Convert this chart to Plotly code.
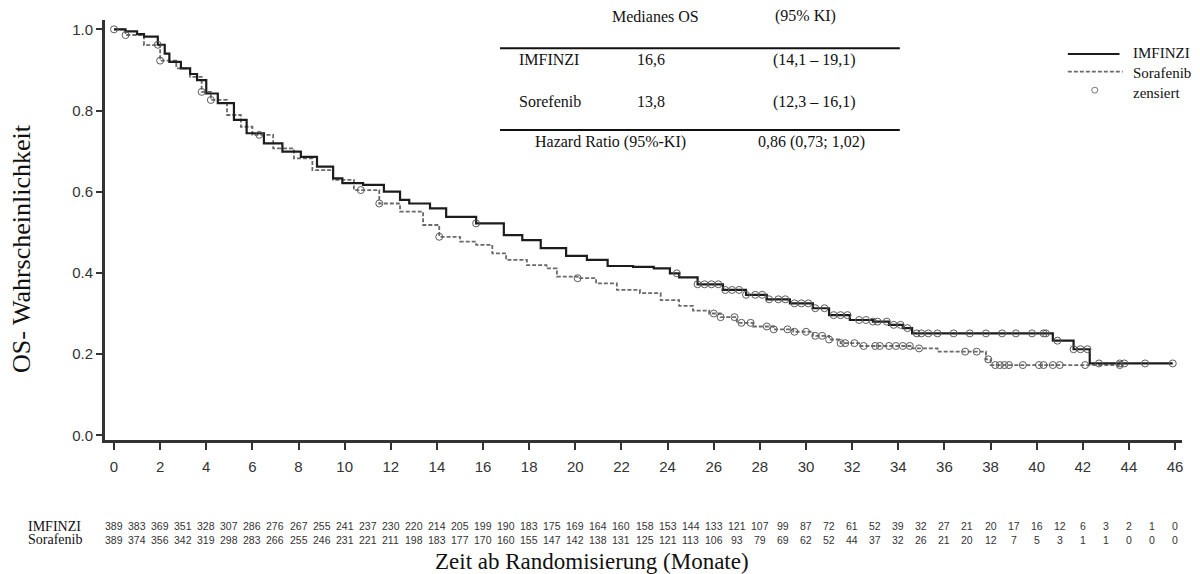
import numpy as np
import plotly.graph_objects as go

# Kaplan-Meier curves (months, survival)
imf_t = [0, 0.5, 1.0, 1.3, 1.9, 2.2, 2.4, 2.9, 3.3, 3.6, 4.0, 4.5, 5.2, 5.75, 6.5, 7.3, 8.1, 8.8,
         9.5, 9.9, 10.8, 11.7, 12.4, 12.8, 13.7, 14.4, 15.7, 16.9, 17.7, 18.5, 19.6, 20.5, 21.4,
         22.5, 23.4, 24.1, 24.5, 25.3, 26.4, 27.4, 28.3, 29.3, 30.3, 31.0, 31.9, 32.9, 33.6,
         34.2, 34.6, 40.7, 41.6, 42.3, 45.9]
imf_s = [1.0, 0.995, 0.988, 0.982, 0.962, 0.94, 0.92, 0.904, 0.89, 0.875, 0.842, 0.818, 0.777,
         0.744, 0.719, 0.699, 0.686, 0.662, 0.633, 0.621, 0.617, 0.600, 0.580, 0.571, 0.559,
         0.538, 0.522, 0.493, 0.481, 0.461, 0.442, 0.432, 0.417, 0.415, 0.411, 0.399, 0.389,
         0.372, 0.358, 0.346, 0.335, 0.325, 0.313, 0.296, 0.284, 0.280, 0.272, 0.264, 0.251,
         0.233, 0.212, 0.177, 0.177]

sor_t = [0, 0.5, 1.3, 2.0, 2.7, 3.3, 3.8, 4.2, 4.9, 5.5, 6.0, 6.9, 7.8, 8.6, 9.5, 10.4, 11.5,
         12.4, 13.4, 14.1, 15.0, 15.7, 16.4, 17.0, 17.9, 18.75, 19.2, 20.1, 20.9, 21.8, 22.8,
         23.7, 24.5, 25.1, 25.8, 26.3, 27.0, 27.7, 28.6, 29.45, 30.3, 31.0, 31.5, 32.3, 34.6,
         35.7, 37.8, 38.0, 43.6]
sor_s = [1.0, 0.986, 0.961, 0.923, 0.904, 0.883, 0.846, 0.826, 0.789, 0.760, 0.740, 0.707,
         0.682, 0.653, 0.629, 0.604, 0.571, 0.551, 0.518, 0.489, 0.477, 0.469, 0.448, 0.432,
         0.419, 0.411, 0.391, 0.387, 0.374, 0.358, 0.350, 0.333, 0.319, 0.307, 0.300, 0.291,
         0.277, 0.268, 0.261, 0.255, 0.245, 0.236, 0.227, 0.220, 0.214, 0.206, 0.187, 0.173,
         0.173]

# censoring times
imf_cens = [1.9, 15.7, 24.4, 25.3, 25.6, 25.9, 26.2, 26.5, 26.8, 27.1, 27.4, 27.8, 28.1, 28.4,
            28.8, 29.1, 29.5, 29.8, 30.1, 30.4, 30.8, 31.2, 31.5, 31.8, 32.3, 32.6, 32.9, 33.1,
            33.5, 33.8, 34.1, 34.4, 34.8, 35.0, 35.3, 35.7, 36.4, 37.1, 37.8, 38.5, 39.1, 39.8,
            40.3, 40.4, 40.9, 41.6, 41.9, 42.2, 42.7, 43.6, 43.8, 44.7, 45.9]
sor_cens = [0.0, 0.5, 2.0, 3.8, 4.2, 6.3, 10.7, 11.5, 14.1, 20.1, 26.0, 26.3, 26.9, 27.2, 27.6,
            28.3, 28.6, 29.2, 29.5, 30.0, 30.4, 30.7, 31.0, 31.5, 31.7, 32.1, 32.5, 33.0, 33.2,
            33.6, 33.9, 34.2, 34.5, 34.9, 36.9, 37.4, 37.9, 38.2, 38.4, 38.6, 38.8, 39.4, 40.1,
            40.3, 40.7, 41.0, 42.1, 43.6]

months = list(range(0, 47))
imf_risk = [389, 383, 369, 351, 328, 307, 286, 276, 267, 255, 241, 237, 230, 220, 214, 205, 199,
            190, 183, 175, 169, 164, 160, 158, 153, 144, 133, 121, 107, 99, 87, 72, 61, 52, 39,
            32, 27, 21, 20, 17, 16, 12, 6, 3, 2, 1, 0]
sor_risk = [389, 374, 356, 342, 319, 298, 283, 266, 255, 246, 231, 221, 211, 198, 183, 177, 170,
            160, 155, 147, 142, 138, 131, 125, 121, 113, 106, 93, 79, 69, 62, 52, 44, 37, 32, 26,
            21, 20, 12, 7, 5, 3, 1, 1, 0, 0, 0]

table_header = ['Medianes OS', '(95% KI)']
table_rows = [['IMFINZI', '16,6', '(14,1 – 19,1)'],
              ['Sorefenib', '13,8', '(12,3 – 16,1)']]
table_hr = ['Hazard Ratio (95%-KI)', '0,86 (0,73; 1,02)']

serif = 'Liberation Serif'
sans = 'Liberation Sans'


def step_at(times, surv, t):
    i = np.searchsorted(np.asarray(times), t, side='right') - 1
    return np.asarray(surv)[i]


def note(x, y, text, font, xref='paper', xanchor='center', **kw):
    return dict(x=x, y=y, xref=xref, yref='paper', text=text, showarrow=False,
                xanchor=xanchor, yanchor='middle', font=font, **kw)


fig = go.Figure()

fig.add_trace(go.Scatter(
    x=sor_t, y=sor_s, mode='lines', line_shape='hv',
    line={'color': '#6a6a6a', 'width': 1.8, 'dash': '4px,2px'},
    showlegend=False,
))
fig.add_trace(go.Scatter(
    x=imf_t, y=imf_s, mode='lines', line_shape='hv',
    line={'color': '#1c1c1c', 'width': 2.2},
    showlegend=False,
))
for cens, times, surv in [(sor_cens, sor_t, sor_s), (imf_cens, imf_t, imf_s)]:
    fig.add_trace(go.Scatter(
        x=cens, y=[step_at(times, surv, c) for c in cens], mode='markers',
        marker={'symbol': 'circle-open', 'size': 7, 'color': '#5a5a5a', 'line': {'width': 1}},
        showlegend=False,
    ))

annotations = []
tfont = {'family': serif, 'size': 16, 'color': '#111'}
lfont = {'family': serif, 'size': 15, 'color': '#111'}
riskfont = {'family': serif, 'size': 14, 'color': '#111'}
rfont = {'family': sans, 'size': 10.5, 'color': '#333'}

# number at risk
for row_y, label, risk in [(-0.205, 'IMFINZI', imf_risk), (-0.238, 'Sorafenib', sor_risk)]:
    annotations.append(note(-0.073, row_y, label, riskfont, xanchor='left'))
    for m, n in zip(months, risk):
        annotations.append(note(m, row_y, str(n), rfont, xref='x', borderpad=0))

# axis titles
annotations.append(note(0.452, -0.290, 'Zeit ab Randomisierung (Monate)',
                        {'family': serif, 'size': 23, 'color': '#111'}, borderpad=0))
annotations.append(note(-0.077, 0.455, 'OS- Wahrscheinlichkeit',
                        {'family': serif, 'size': 26, 'color': '#111'}, textangle=-90))

# median table
annotations.append(note(0.5107, 1.0095, table_header[0], tfont))
annotations.append(note(0.650, 1.0095, table_header[1], tfont))
for row_y, row in zip([0.905, 0.805], table_rows):
    annotations.append(note(0.3825, row_y, row[0], tfont, xanchor='left'))
    annotations.append(note(0.507, row_y, row[1], tfont))
    annotations.append(note(0.659, row_y, row[2], tfont))
annotations.append(note(0.469, 0.7095, table_hr[0], tfont))
annotations.append(note(0.656, 0.7095, table_hr[1], tfont))

# legend
for ly, txt in [(0.921, 'IMFINZI'), (0.874, 'Sorafenib'), (0.826, 'zensiert')]:
    annotations.append(note(0.9525, ly, txt, lfont, xanchor='left'))

shapes = [
    dict(type='line', xref='paper', yref='paper', x0=0.3668, x1=0.738, y0=0.933, y1=0.933,
         line={'color': '#111', 'width': 2}),
    dict(type='line', xref='paper', yref='paper', x0=0.3668, x1=0.738, y0=0.738, y1=0.738,
         line={'color': '#111', 'width': 2}),
    dict(type='line', xref='paper', yref='paper', x0=0.894, x1=0.942, y0=0.919, y1=0.919,
         line={'color': '#1c1c1c', 'width': 2.2}),
    dict(type='line', xref='paper', yref='paper', x0=0.894, x1=0.945, y0=0.877, y1=0.877,
         line={'color': '#6a6a6a', 'width': 1.8, 'dash': '4px,2px'}),
    dict(type='circle', xref='paper', yref='paper', x0=0.9162, x1=0.9218, y0=0.826, y1=0.840,
         line={'color': '#777', 'width': 1}),
]

# the page puts the figure 8px in from the corner, so it is drawn 8px smaller
fig.update_layout(
    width=1192, height=566,
    margin={'l': 97, 'r': 18, 't': 12, 'b': 134},
    paper_bgcolor='white', plot_bgcolor='white',
    annotations=annotations, shapes=shapes,
    xaxis={
        'range': [-0.39, 46.3], 'tickvals': list(range(0, 47, 2)),
        'showgrid': False, 'zeroline': False,
        'showline': True, 'linecolor': '#333', 'linewidth': 2.5,
        'ticks': 'outside', 'ticklen': 7, 'tickwidth': 2, 'tickcolor': '#333',
        'ticklabelstandoff': 4,
        'tickfont': {'family': sans, 'size': 15, 'color': '#333'},
    },
    yaxis={
        'range': [-0.0116, 1.023], 'tickvals': [0.0, 0.2, 0.4, 0.6, 0.8, 1.0],
        'tickformat': '.1f',
        'showgrid': False, 'zeroline': False,
        'showline': True, 'linecolor': '#333', 'linewidth': 3,
        'ticks': 'outside', 'ticklen': 6, 'tickwidth': 2, 'tickcolor': '#333',
        'tickfont': {'family': sans, 'size': 15, 'color': '#333'},
    },
)

fig.write_html('out.html')
